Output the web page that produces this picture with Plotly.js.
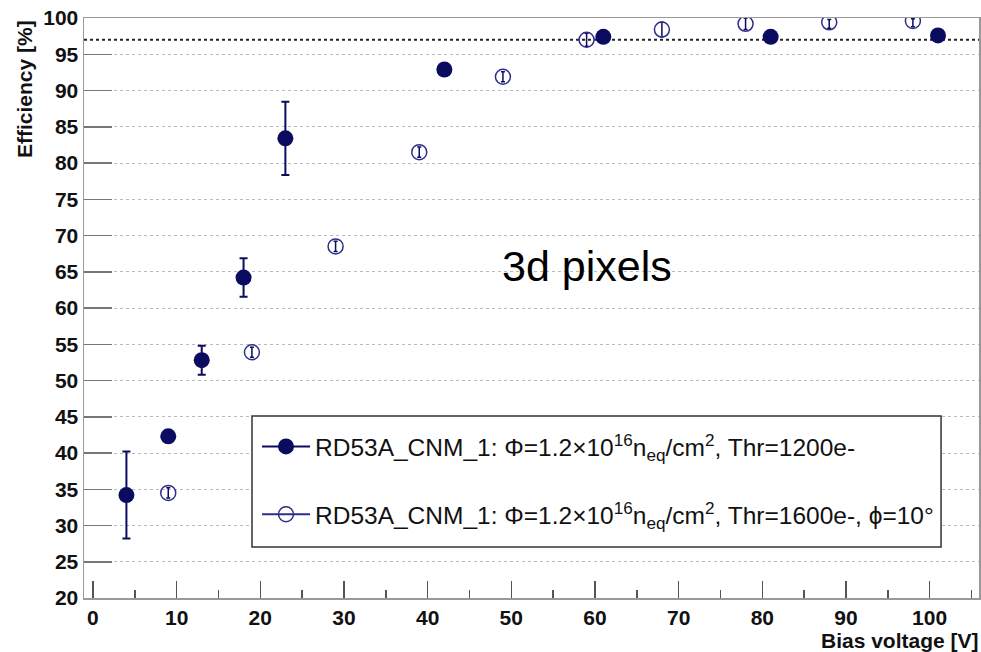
<!DOCTYPE html>
<html>
<head>
<meta charset="utf-8">
<script src="https://cdn.plot.ly/plotly-3.0.1.min.js"></script>
<style>html,body{margin:0;padding:0;background:#fff;}#chart{width:981px;height:652px;}</style>
</head>
<body>
<div id="chart"></div>
<script>
// Series 1: Thr=1200e- (filled markers)
const biasFilled = [4, 9, 13, 18, 23, 42, 61, 81, 101];
const effFilled  = [34.2, 42.3, 52.8, 64.2, 83.4, 92.9, 97.4, 97.4, 97.6];
const errFilled  = [6.0, 0.3, 2.0, 2.65, 5.05, 0.3, 0.3, 0.3, 0.3];

// Series 2: Thr=1600e-, phi=10 deg (open markers)
const biasOpen   = [9, 19, 29, 39, 49, 59, 68, 78, 88, 98];
const effOpen    = [34.5, 53.9, 68.5, 81.5, 91.9, 97.0, 98.4, 99.2, 99.4, 99.6];
const errOpenUp  = [0.7, 0.7, 0.7, 0.7, 0.7, 0.9, 1.0, 0.8, 0.4, 0.3];
const errOpenDn  = [0.7, 0.7, 0.7, 0.7, 0.7, 0.9, 1.0, 0.8, 0.8, 0.8];

const threshold = 97;
const label1 = "RD53A_CNM_1: \u03A6=1.2\u00D710<sup>16</sup>n<sub>eq</sub>/cm<sup>2</sup>, Thr=1200e-";
const label2 = "RD53A_CNM_1: \u03A6=1.2\u00D710<sup>16</sup>n<sub>eq</sub>/cm<sup>2</sup>, Thr=1600e-, \u03D5=10\u00B0";
const xTitle = "Bias voltage [V]";
const yTitle = "Efficiency [%]";
const plotLabel = "3d pixels";

const navy = "#0b0b60";
const openCol = "#2e2e8c";
const font = "Liberation Sans, Arial, Helvetica, sans-serif";

const traces = [
  {
    x: biasFilled, y: effFilled, type: "scatter", mode: "markers", showlegend: false,
    marker: {color: navy, size: 16, symbol: "circle"},
    error_y: {type: "data", array: errFilled, color: navy, thickness: 2, width: 4}
  },
  {
    x: biasOpen, y: effOpen, type: "scatter", mode: "markers", showlegend: false,
    marker: {color: openCol, size: 15, symbol: "circle-open", line: {width: 1.5, color: openCol}},
    error_y: {type: "data", symmetric: false, array: errOpenUp, arrayminus: errOpenDn, color: navy, thickness: 1.5, width: 2}
  },
  {
    x: [null], y: [null], type: "scatter", mode: "lines+markers", name: label1, legendgroup: "a",
    line: {color: navy, width: 2}, marker: {color: navy, size: 16, symbol: "circle"}
  },
  {
    x: [null], y: [null], type: "scatter", mode: "lines+markers", name: label2, legendgroup: "b",
    line: {color: openCol, width: 2}, marker: {color: openCol, size: 15, symbol: "circle-open", line: {width: 1.5, color: openCol}}
  }
];

const layout = {
  width: 981, height: 652,
  margin: {l: 84, r: 2, t: 18, b: 54},
  paper_bgcolor: "#fff", plot_bgcolor: "#fff",
  font: {family: font, color: "#000"},
  xaxis: {
    range: [-1.07, 105.9], dtick: 10, tick0: 0,
    showgrid: false, zeroline: false,
    showline: true, mirror: true, linecolor: "#999", linewidth: 1.5,
    ticks: "inside", ticklen: 17, tickwidth: 1.5, tickcolor: "#555",
    minor: {dtick: 5, tick0: 0, ticks: "inside", ticklen: 8, tickwidth: 1.5, tickcolor: "#555", showgrid: false},
    tickfont: {family: font, size: 21, color: "#111", weight: "bold"}
  },
  yaxis: {
    range: [20, 100], dtick: 5, tick0: 20,
    showgrid: true, gridcolor: "#bbb", gridwidth: 1, griddash: "dot",
    zeroline: false,
    showline: true, mirror: true, linecolor: "#999", linewidth: 1.5,
    ticks: "inside", ticklen: 28, tickwidth: 1.5, tickcolor: "#777",
    tickfont: {family: font, size: 21, color: "#111", weight: "bold"}
  },
  showlegend: true,
  legend: {
    x: 0.1933, y: 0.3, xanchor: "left", yanchor: "top",
    bgcolor: "rgba(0,0,0,0)", borderwidth: 0,
    font: {family: font, size: 24.5, color: "#111"},
    traceorder: "grouped", tracegroupgap: 33, itemwidth: 48
  },
  shapes: [
    {type: "rect", xref: "paper", yref: "paper", x0: 0.1877, x1: 0.9576, y0: 0.0879, y1: 0.3138,
     line: {color: "#333", width: 1.5}, fillcolor: "#fff", layer: "above"},
    {type: "line", xref: "paper", yref: "y", x0: 0, x1: 1, y0: threshold, y1: threshold,
     line: {color: "#222", width: 2, dash: "3px,3px"}, layer: "below"}
  ],
  annotations: [
    {text: plotLabel, xref: "x", yref: "y", x: 59, y: 65.8, showarrow: false,
     font: {family: font, size: 43, color: "#000"}},
    {text: "<b>" + xTitle + "</b>", xref: "paper", yref: "paper", x: 1, xshift: 2, y: -0.0741,
     xanchor: "right", yanchor: "middle", showarrow: false, font: {family: font, size: 21, color: "#111"}},
    {text: "<b>" + yTitle + "</b>", xref: "paper", yref: "paper", x: -0.067, y: 1,
     xanchor: "center", yanchor: "top", textangle: -90, showarrow: false, font: {family: font, size: 21, color: "#111"}}
  ]
};

Plotly.newPlot("chart", traces, layout, {displayModeBar: false, staticPlot: true});
</script>
</body>
</html>
